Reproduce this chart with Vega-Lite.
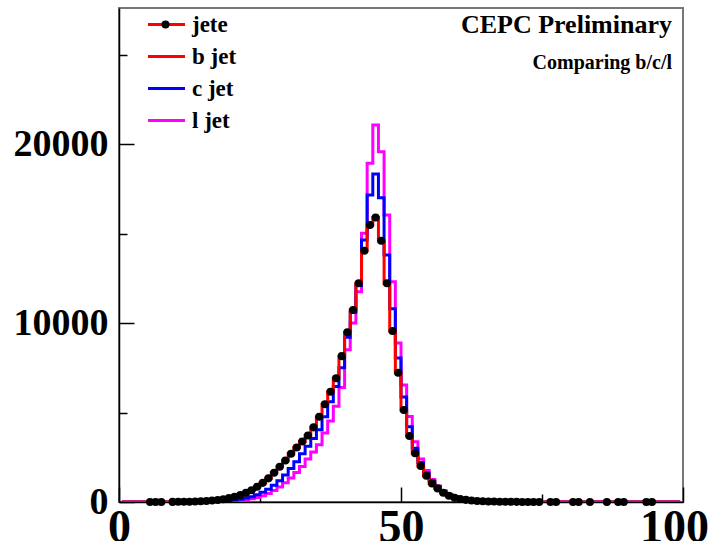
{
 "$schema": "https://vega.github.io/schema/vega-lite/v6.json",
 "width": 564,
 "height": 494,
 "autosize": {"type": "none"},
 "padding": {"left": 119, "top": 8, "right": 31, "bottom": 39},
 "background": "white",
 "config": {"view": {"stroke": "#777777", "strokeWidth": 2}, "font": "Liberation Serif"},
 "title": {
  "text": "CEPC Preliminary",
  "subtitle": "Comparing b/c/l\u00a0\u00a0",
  "anchor": "end",
  "frame": "group",
  "orient": "top",
  "offset": -65,
  "dx": -11,
  "font": "Liberation Serif",
  "fontSize": 26,
  "fontWeight": "bold",
  "color": "black",
  "subtitleFont": "Liberation Serif",
  "subtitleFontSize": 20,
  "subtitleFontWeight": "bold",
  "subtitleColor": "black",
  "subtitlePadding": 15
 },
 "data": {"values": [
  {"x":0.5,"jete":null,"b jet":0,"c jet":0,"l jet":0},
  {"x":1.5,"jete":null,"b jet":0,"c jet":0,"l jet":0},
  {"x":2.5,"jete":null,"b jet":0,"c jet":0,"l jet":0},
  {"x":3.5,"jete":null,"b jet":0,"c jet":0,"l jet":0},
  {"x":4.5,"jete":null,"b jet":0,"c jet":0,"l jet":0},
  {"x":5.5,"jete":2,"b jet":2,"c jet":0,"l jet":0},
  {"x":6.5,"jete":2,"b jet":2,"c jet":0,"l jet":0},
  {"x":7.5,"jete":3,"b jet":3,"c jet":0,"l jet":0},
  {"x":8.5,"jete":null,"b jet":0,"c jet":0,"l jet":0},
  {"x":9.5,"jete":6,"b jet":6,"c jet":0,"l jet":0},
  {"x":10.5,"jete":9,"b jet":9,"c jet":2,"l jet":0},
  {"x":11.5,"jete":13,"b jet":13,"c jet":3,"l jet":0},
  {"x":12.5,"jete":19,"b jet":19,"c jet":5,"l jet":0},
  {"x":13.5,"jete":28,"b jet":28,"c jet":8,"l jet":2},
  {"x":14.5,"jete":40,"b jet":40,"c jet":12,"l jet":4},
  {"x":15.5,"jete":58,"b jet":58,"c jet":18,"l jet":6},
  {"x":16.5,"jete":82,"b jet":82,"c jet":27,"l jet":10},
  {"x":17.5,"jete":115,"b jet":115,"c jet":40,"l jet":16},
  {"x":18.5,"jete":158,"b jet":158,"c jet":58,"l jet":24},
  {"x":19.5,"jete":215,"b jet":215,"c jet":82,"l jet":36},
  {"x":20.5,"jete":290,"b jet":290,"c jet":115,"l jet":55},
  {"x":21.5,"jete":385,"b jet":385,"c jet":160,"l jet":80},
  {"x":22.5,"jete":510,"b jet":510,"c jet":220,"l jet":120},
  {"x":23.5,"jete":660,"b jet":660,"c jet":300,"l jet":175},
  {"x":24.5,"jete":850,"b jet":850,"c jet":405,"l jet":250},
  {"x":25.5,"jete":1070,"b jet":1070,"c jet":550,"l jet":350},
  {"x":26.5,"jete":1320,"b jet":1320,"c jet":710,"l jet":480},
  {"x":27.5,"jete":1630,"b jet":1630,"c jet":930,"l jet":640},
  {"x":28.5,"jete":1970,"b jet":1970,"c jet":1190,"l jet":840},
  {"x":29.5,"jete":2320,"b jet":2320,"c jet":1510,"l jet":1070},
  {"x":30.5,"jete":2700,"b jet":2700,"c jet":1870,"l jet":1340},
  {"x":31.5,"jete":3050,"b jet":3050,"c jet":2250,"l jet":1650},
  {"x":32.5,"jete":3380,"b jet":3380,"c jet":2700,"l jet":1980},
  {"x":33.5,"jete":3720,"b jet":3720,"c jet":3120,"l jet":2400},
  {"x":34.5,"jete":4170,"b jet":4170,"c jet":3550,"l jet":2800},
  {"x":35.5,"jete":4760,"b jet":4760,"c jet":4040,"l jet":3200},
  {"x":36.5,"jete":5460,"b jet":5460,"c jet":4760,"l jet":3850},
  {"x":37.5,"jete":6160,"b jet":6160,"c jet":5600,"l jet":4520},
  {"x":38.5,"jete":6910,"b jet":6910,"c jet":6450,"l jet":5350},
  {"x":39.5,"jete":8150,"b jet":8150,"c jet":7500,"l jet":6400},
  {"x":40.5,"jete":9480,"b jet":9480,"c jet":9200,"l jet":8500},
  {"x":41.5,"jete":10730,"b jet":10730,"c jet":10600,"l jet":10000},
  {"x":42.5,"jete":12220,"b jet":12220,"c jet":12100,"l jet":11750},
  {"x":43.5,"jete":14040,"b jet":14040,"c jet":14640,"l jet":15010},
  {"x":44.5,"jete":15480,"b jet":15480,"c jet":17150,"l jet":18920},
  {"x":45.5,"jete":15900,"b jet":15900,"c jet":18330,"l jet":21060},
  {"x":46.5,"jete":14600,"b jet":14600,"c jet":17000,"l jet":19570},
  {"x":47.5,"jete":12220,"b jet":12220,"c jet":13800,"l jet":16035},
  {"x":48.5,"jete":9550,"b jet":9550,"c jet":10800,"l jet":12310},
  {"x":49.5,"jete":7220,"b jet":7220,"c jet":8050,"l jet":8880},
  {"x":50.5,"jete":5140,"b jet":5140,"c jet":5870,"l jet":6540},
  {"x":51.5,"jete":3690,"b jet":3690,"c jet":4200,"l jet":4770},
  {"x":52.5,"jete":2720,"b jet":2720,"c jet":3000,"l jet":3370},
  {"x":53.5,"jete":2010,"b jet":2010,"c jet":2200,"l jet":2400},
  {"x":54.5,"jete":1470,"b jet":1470,"c jet":1620,"l jet":1760},
  {"x":55.5,"jete":1040,"b jet":1040,"c jet":1160,"l jet":1260},
  {"x":56.5,"jete":760,"b jet":760,"c jet":840,"l jet":900},
  {"x":57.5,"jete":520,"b jet":520,"c jet":590,"l jet":630},
  {"x":58.5,"jete":350,"b jet":350,"c jet":400,"l jet":430},
  {"x":59.5,"jete":240,"b jet":240,"c jet":275,"l jet":295},
  {"x":60.5,"jete":170,"b jet":170,"c jet":190,"l jet":200},
  {"x":61.5,"jete":120,"b jet":120,"c jet":130,"l jet":140},
  {"x":62.5,"jete":85,"b jet":85,"c jet":92,"l jet":98},
  {"x":63.5,"jete":60,"b jet":60,"c jet":65,"l jet":68},
  {"x":64.5,"jete":44,"b jet":44,"c jet":46,"l jet":48},
  {"x":65.5,"jete":32,"b jet":32,"c jet":33,"l jet":34},
  {"x":66.5,"jete":24,"b jet":24,"c jet":24,"l jet":24},
  {"x":67.5,"jete":18,"b jet":18,"c jet":17,"l jet":17},
  {"x":68.5,"jete":13,"b jet":13,"c jet":12,"l jet":12},
  {"x":69.5,"jete":10,"b jet":10,"c jet":9,"l jet":8},
  {"x":70.5,"jete":7,"b jet":7,"c jet":6,"l jet":6},
  {"x":71.5,"jete":5,"b jet":5,"c jet":4,"l jet":4},
  {"x":72.5,"jete":4,"b jet":4,"c jet":3,"l jet":3},
  {"x":73.5,"jete":3,"b jet":3,"c jet":2,"l jet":2},
  {"x":74.5,"jete":2,"b jet":2,"c jet":1,"l jet":1},
  {"x":75.5,"jete":null,"b jet":0,"c jet":0,"l jet":0},
  {"x":76.5,"jete":1,"b jet":1,"c jet":0,"l jet":0},
  {"x":77.5,"jete":1,"b jet":1,"c jet":0,"l jet":0},
  {"x":78.5,"jete":null,"b jet":0,"c jet":0,"l jet":0},
  {"x":79.5,"jete":null,"b jet":0,"c jet":0,"l jet":0},
  {"x":80.5,"jete":1,"b jet":1,"c jet":0,"l jet":0},
  {"x":81.5,"jete":1,"b jet":1,"c jet":0,"l jet":0},
  {"x":82.5,"jete":null,"b jet":0,"c jet":0,"l jet":0},
  {"x":83.5,"jete":1,"b jet":1,"c jet":0,"l jet":0},
  {"x":84.5,"jete":null,"b jet":0,"c jet":0,"l jet":0},
  {"x":85.5,"jete":null,"b jet":0,"c jet":0,"l jet":0},
  {"x":86.5,"jete":1,"b jet":1,"c jet":0,"l jet":0},
  {"x":87.5,"jete":null,"b jet":0,"c jet":0,"l jet":0},
  {"x":88.5,"jete":1,"b jet":1,"c jet":0,"l jet":0},
  {"x":89.5,"jete":1,"b jet":1,"c jet":0,"l jet":0},
  {"x":90.5,"jete":null,"b jet":0,"c jet":0,"l jet":0},
  {"x":91.5,"jete":null,"b jet":0,"c jet":0,"l jet":0},
  {"x":92.5,"jete":null,"b jet":0,"c jet":0,"l jet":0},
  {"x":93.5,"jete":1,"b jet":1,"c jet":0,"l jet":0},
  {"x":94.5,"jete":1,"b jet":1,"c jet":0,"l jet":0},
  {"x":95.5,"jete":null,"b jet":0,"c jet":0,"l jet":0},
  {"x":96.5,"jete":null,"b jet":0,"c jet":0,"l jet":0},
  {"x":97.5,"jete":null,"b jet":0,"c jet":0,"l jet":0},
  {"x":98.5,"jete":null,"b jet":0,"c jet":0,"l jet":0},
  {"x":99.5,"jete":null,"b jet":0,"c jet":0,"l jet":0}
 ]},
 "encoding": {
  "x": {
   "field": "x", "type": "quantitative",
   "scale": {"domain": [0, 100], "nice": false, "zero": false},
   "axis": {
    "title": null, "grid": false,
    "values": [0, 25, 50, 75, 100],
    "format": "d",
    "labelExpr": "datum.value % 50 === 0 ? datum.label : ''",
    "labelFlush": false, "labelOverlap": false,
    "labelFont": "Liberation Serif", "labelFontSize": 46, "labelFontWeight": "bold", "labelColor": "black",
    "labelOffset": {"condition": {"test": "datum.value === 100", "value": -9}, "value": 0},
    "domainColor": "black", "domainWidth": 1.5,
    "tickColor": "black", "tickWidth": 1.5,
    "tickSize": {"condition": {"test": "datum.value % 50 === 0", "value": -15}, "value": -8},
    "labelPadding": 18
   }
  }
 },
 "layer": [
  {
   "mark": {"type": "line", "interpolate": "step", "strokeWidth": 3, "clip": true},
   "encoding": {
    "y": {"field": "l jet", "type": "quantitative"},
    "color": {"datum": "l jet"}
   }
  },
  {
   "mark": {"type": "line", "interpolate": "step", "strokeWidth": 3, "clip": true},
   "encoding": {
    "y": {"field": "c jet", "type": "quantitative"},
    "color": {"datum": "c jet"}
   }
  },
  {
   "mark": {"type": "line", "interpolate": "step", "strokeWidth": 3, "clip": true},
   "encoding": {
    "y": {
     "field": "b jet", "type": "quantitative",
     "scale": {"domain": [0, 27600], "nice": false},
     "axis": {
      "title": null, "grid": false,
      "values": [0, 5000, 10000, 15000, 20000, 25000],
      "format": "d",
      "labelExpr": "datum.value % 10000 === 0 ? datum.label : ''",
      "labelFlush": false, "labelOverlap": false,
      "labelFont": "Liberation Serif", "labelFontSize": 38, "labelFontWeight": "bold", "labelColor": "black",
      "domainColor": "black", "domainWidth": 1.5,
      "tickColor": "black", "tickWidth": 1.5,
      "tickSize": {"condition": {"test": "datum.value % 10000 === 0", "value": -15}, "value": -8},
      "labelPadding": 26
     }
    },
    "color": {
     "datum": "b jet",
     "scale": {"domain": ["jete", "b jet", "c jet", "l jet"], "range": ["#ff0000", "#ff0000", "#0000ff", "#ff00ff"]},
     "legend": {
      "orient": "none", "legendX": 36, "legendY": 5, "padding": 0,
      "title": null,
      "symbolType": "M-2,0H2", "symbolSize": 342, "symbolStrokeWidth": 3,
      "labelFont": "Liberation Serif", "labelFontSize": 23, "labelFontWeight": "bold", "labelColor": "black",
      "labelOffset": 14, "rowPadding": 8
     }
    }
   }
  },
  {
   "transform": [{"filter": {"field": "jete", "valid": true}}],
   "mark": {"type": "point", "filled": true, "color": "black", "size": 65, "opacity": 1},
   "encoding": {
    "y": {"field": "jete", "type": "quantitative"},
    "shape": {
     "datum": "jete",
     "scale": {"domain": ["jete"], "range": ["circle"]},
     "legend": {
      "orient": "none", "legendX": 35, "legendY": 5, "padding": 0,
      "title": null,
      "symbolSize": 65, "symbolFillColor": "black", "symbolStrokeWidth": 0,
      "labelFont": "Liberation Serif", "labelFontSize": 23, "labelFontWeight": "bold",
      "labelExpr": "''"
     }
    }
   }
  }
 ]
}
